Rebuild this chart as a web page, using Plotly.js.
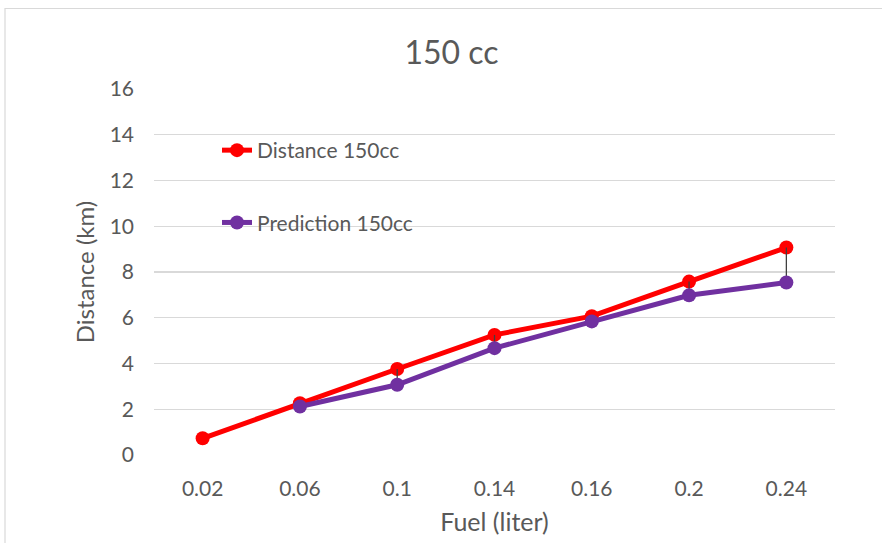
<!DOCTYPE html>
<html>
<head>
<meta charset="utf-8">
<script src="https://cdn.plot.ly/plotly-3.0.1.min.js"></script>
<style>html,body{margin:0;padding:0;background:#fff;}#chart{width:882px;height:543px;}</style>
</head>
<body>
<div id="chart"></div>
<script>
const fuel = ["0.02", "0.06", "0.1", "0.14", "0.16", "0.2", "0.24"];
const distance150 = [0.73, 2.26, 3.76, 5.25, 6.07, 7.58, 9.07];
const prediction150 = [null, 2.12, 3.07, 4.67, 5.84, 6.98, 7.54];

// high-low lines (gap between the two series) derived from the data
const gapUp = prediction150.map((p, i) => p == null ? null : distance150[i] - p);

const font = "Lato, 'Open Sans', sans-serif";
const grey = "#595959";

const traces = [
  {
    x: fuel, y: distance150, name: "Distance 150cc", type: "scatter", mode: "lines+markers",
    line: {color: "#ff0000", width: 5}, marker: {color: "#ff0000", size: 14},
    legendgroup: "a"
  },
  {
    x: fuel, y: prediction150, name: "Prediction 150cc", type: "scatter", mode: "lines+markers",
    line: {color: "#7030a0", width: 5}, marker: {color: "#7030a0", size: 14},
    legendgroup: "b",
    error_y: {type: "data", symmetric: false, array: gapUp, arrayminus: gapUp.map(v => 0),
              color: "#404040", thickness: 1.3, width: 0}
  }
];

const layout = {
  width: 882, height: 543,
  margin: {l: 154, r: 47, t: 89, b: 88},
  paper_bgcolor: "#fff", plot_bgcolor: "#fff",
  font: {family: font, color: grey, size: 21},
  title: {text: "150 cc", font: {family: font, size: 32, color: grey}, x: 0.512, xanchor: "center", y: 0.902, yanchor: "middle"},
  xaxis: {
    type: "category", range: [-0.5, 6.5], showgrid: false, zeroline: false, showline: false,
    tickfont: {size: 21, color: grey}, ticks: "", ticklabelstandoff: 19,
    title: {text: "Fuel (liter)", font: {size: 25, color: grey}, standoff: 14}
  },
  yaxis: {
    range: [0, 16], dtick: 2, tick0: 0, showgrid: true, gridcolor: "#d9d9d9", gridwidth: 1.3,
    zeroline: false, showline: false, ticks: "", ticklen: 0, ticklabelstandoff: 19,
    tickfont: {size: 21, color: grey},
    title: {text: "Distance (km)", font: {size: 24, color: grey}, standoff: 8}
  },
  showlegend: true,
  legend: {x: (217 - 154) / 681, y: (455 - 130) / 366, xanchor: "left", yanchor: "top", bgcolor: "rgba(0,0,0,0)",
           font: {size: 21, color: grey}, traceorder: "grouped", tracegroupgap: 42},
  shapes: [
    {type: "rect", xref: "paper", yref: "paper",
     x0: (5 - 154) / 681, x1: (890 - 154) / 681, y0: -0.3, y1: 1 + (89 - 8.5) / 366,
     line: {color: "#d9d9d9", width: 1.2}, fillcolor: "rgba(0,0,0,0)", layer: "below"}
  ]
};

Plotly.newPlot("chart", traces, layout, {displayModeBar: false, staticPlot: true});
</script>
</body>
</html>
